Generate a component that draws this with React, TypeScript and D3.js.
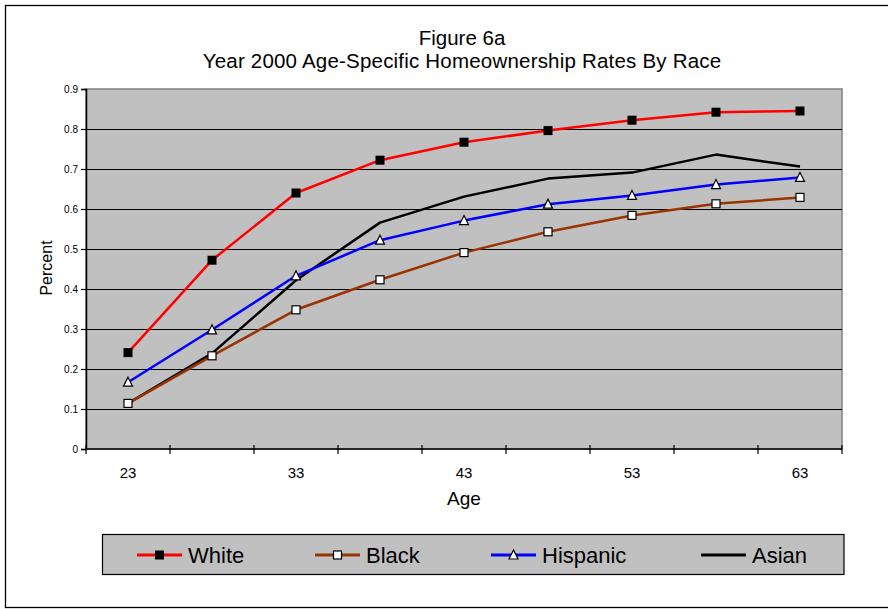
import * as d3 from "d3";
import { useEffect, useRef } from "react";

const ages = ["23", "28", "33", "38", "43", "48", "53", "58", "63"];
const labeledAges = ["23", "33", "43", "53", "63"];
const yTicks = [0, 0.1, 0.2, 0.3, 0.4, 0.5, 0.6, 0.7, 0.8, 0.9];

const white = [0.241, 0.472, 0.64, 0.722, 0.767, 0.796, 0.822, 0.842, 0.845];
const black = [0.114, 0.233, 0.348, 0.423, 0.491, 0.543, 0.584, 0.613, 0.629];
const hispanic = [0.167, 0.298, 0.433, 0.522, 0.571, 0.612, 0.634, 0.661, 0.679];
const asian = [0.114, 0.239, 0.422, 0.566, 0.631, 0.676, 0.691, 0.736, 0.706];

type Marker = "filledSquare" | "openSquare" | "triangle" | "none";

const series: { name: string; values: number[]; color: string; marker: Marker }[] = [
  { name: "White", values: white, color: "#ff0000", marker: "filledSquare" },
  { name: "Black", values: black, color: "#993300", marker: "openSquare" },
  { name: "Hispanic", values: hispanic, color: "#0000ff", marker: "triangle" },
  { name: "Asian", values: asian, color: "#000000", marker: "none" },
];

const FONT = "'Liberation Sans', Arial, sans-serif";

const drawMarker = (
  g: d3.Selection<SVGGElement, unknown, null, undefined>,
  marker: Marker,
  cx: number,
  cy: number
) => {
  if (marker === "filledSquare") {
    g.append("rect")
      .attr("x", cx - 4.5)
      .attr("y", cy - 4.5)
      .attr("width", 9)
      .attr("height", 9)
      .attr("fill", "#000");
  } else if (marker === "openSquare") {
    g.append("rect")
      .attr("x", cx - 4)
      .attr("y", cy - 4)
      .attr("width", 8)
      .attr("height", 8)
      .attr("fill", "#fff")
      .attr("stroke", "#000")
      .attr("stroke-width", 1.2);
  } else if (marker === "triangle") {
    g.append("path")
      .attr("d", `M${cx},${cy - 5}L${cx + 4.5},${cy + 4}L${cx - 4.5},${cy + 4}Z`)
      .attr("fill", "#fff")
      .attr("stroke", "#000")
      .attr("stroke-width", 1.2);
  }
};

export default function App() {
  const ref = useRef<SVGSVGElement | null>(null);

  useEffect(() => {
    if (!ref.current) return;
    const svg = d3.select(ref.current);
    svg.selectAll("*").remove();

    const plot = { left: 86, right: 842, top: 89, bottom: 449 };

    const x = d3.scaleBand().domain(ages).range([plot.left, plot.right]);
    const y = d3.scaleLinear().domain([0, 0.9]).range([plot.bottom, plot.top]);

    // outer frame
    svg
      .append("rect")
      .attr("x", 5.5)
      .attr("y", 5.5)
      .attr("width", 900)
      .attr("height", 602)
      .attr("fill", "#fff")
      .attr("stroke", "#000")
      .attr("stroke-width", 1.3);

    // titles
    svg
      .append("text")
      .attr("x", 462)
      .attr("y", 45)
      .attr("text-anchor", "middle")
      .style("font-family", FONT)
      .style("font-size", "20.5px")
      .text("Figure 6a");
    svg
      .append("text")
      .attr("x", 462)
      .attr("y", 68)
      .attr("text-anchor", "middle")
      .style("font-family", FONT)
      .style("font-size", "20.5px")
      .style("letter-spacing", "0.2px")
      .text("Year 2000 Age-Specific Homeownership Rates By Race");

    // plot background
    svg
      .append("rect")
      .attr("x", plot.left)
      .attr("y", plot.top)
      .attr("width", plot.right - plot.left)
      .attr("height", plot.bottom - plot.top)
      .attr("fill", "#c0c0c0")
      .attr("stroke", "#808080")
      .attr("stroke-width", 1.5);

    // gridlines
    svg
      .append("g")
      .selectAll("line")
      .data(yTicks.filter((d) => d > 0 && d < 0.9))
      .enter()
      .append("line")
      .attr("x1", plot.left)
      .attr("x2", plot.right)
      .attr("y1", (d) => Math.round(y(d)) + 0.5)
      .attr("y2", (d) => Math.round(y(d)) + 0.5)
      .attr("stroke", "#000")
      .attr("stroke-width", 1);

    // Y axis
    const yAxis = svg
      .append("g")
      .attr("transform", `translate(${plot.left},0)`)
      .call(
        d3
          .axisLeft(y)
          .tickValues(yTicks)
          .tickSize(5)
          .tickPadding(3)
          .tickFormat((d) => (d === 0 ? "0" : d3.format(".1f")(d as number)))
      );
    yAxis.select(".domain").attr("stroke", "#000").attr("stroke-width", 1.5);
    yAxis.selectAll(".tick line").attr("stroke", "#000").attr("stroke-width", 1.2);
    yAxis
      .selectAll("text")
      .style("font-family", FONT)
      .style("font-size", "10px")
      .attr("fill", "#000");

    // X axis line
    svg
      .append("line")
      .attr("x1", plot.left)
      .attr("x2", plot.right)
      .attr("y1", plot.bottom)
      .attr("y2", plot.bottom)
      .attr("stroke", "#000")
      .attr("stroke-width", 1.5);

    // X ticks on category boundaries
    const boundaries = ages.map((a) => x(a)!).concat([plot.right]);
    svg
      .append("g")
      .selectAll("line")
      .data(boundaries)
      .enter()
      .append("line")
      .attr("x1", (d) => d)
      .attr("x2", (d) => d)
      .attr("y1", plot.bottom - 4)
      .attr("y2", plot.bottom + 5)
      .attr("stroke", "#000")
      .attr("stroke-width", 1.2);

    // X tick labels
    svg
      .append("g")
      .selectAll("text")
      .data(labeledAges)
      .enter()
      .append("text")
      .attr("x", (d) => x(d)! + x.bandwidth() / 2)
      .attr("y", 478)
      .attr("text-anchor", "middle")
      .style("font-family", FONT)
      .style("font-size", "15px")
      .text((d) => d);

    // axis titles
    svg
      .append("text")
      .attr("x", 464)
      .attr("y", 505)
      .attr("text-anchor", "middle")
      .style("font-family", FONT)
      .style("font-size", "19px")
      .text("Age");
    svg
      .append("text")
      .attr("transform", "translate(52,268) rotate(-90)")
      .attr("text-anchor", "middle")
      .style("font-family", FONT)
      .style("font-size", "16px")
      .text("Percent");

    // lines
    const line = d3
      .line<number>()
      .x((_, i) => x(ages[i])! + x.bandwidth() / 2)
      .y((d) => y(d));

    const order = [series[3], series[1], series[2], series[0]];
    order.forEach((s) => {
      svg
        .append("path")
        .datum(s.values)
        .attr("d", line)
        .attr("fill", "none")
        .attr("stroke", s.color)
        .attr("stroke-width", 2.5)
        .attr("stroke-linejoin", "round");
    });
    order.forEach((s) => {
      const g = svg.append("g");
      s.values.forEach((v, i) => drawMarker(g, s.marker, x(ages[i])! + x.bandwidth() / 2, y(v)));
    });

    // legend
    svg
      .append("rect")
      .attr("x", 102.5)
      .attr("y", 534.5)
      .attr("width", 741.5)
      .attr("height", 40)
      .attr("fill", "#c0c0c0")
      .attr("stroke", "#000")
      .attr("stroke-width", 1.2);

    const legendLineX = [137, 315, 491, 701];
    const legendY = 555;
    series.forEach((s, i) => {
      const g = svg.append("g");
      const x0 = legendLineX[i];
      g.append("line")
        .attr("x1", x0)
        .attr("x2", x0 + 45)
        .attr("y1", legendY)
        .attr("y2", legendY)
        .attr("stroke", s.color)
        .attr("stroke-width", 3);
      drawMarker(g, s.marker, x0 + 22.5, legendY);
      g.append("text")
        .attr("x", x0 + 51)
        .attr("y", legendY + 8)
        .style("font-family", FONT)
        .style("font-size", "22px")
        .text(s.name);
    });
  }, []);

  return (
    <svg
      ref={ref}
      width={888}
      height={609}
      style={{ position: "absolute", left: 0, top: 0, background: "#fff" }}
    ></svg>
  );
}
